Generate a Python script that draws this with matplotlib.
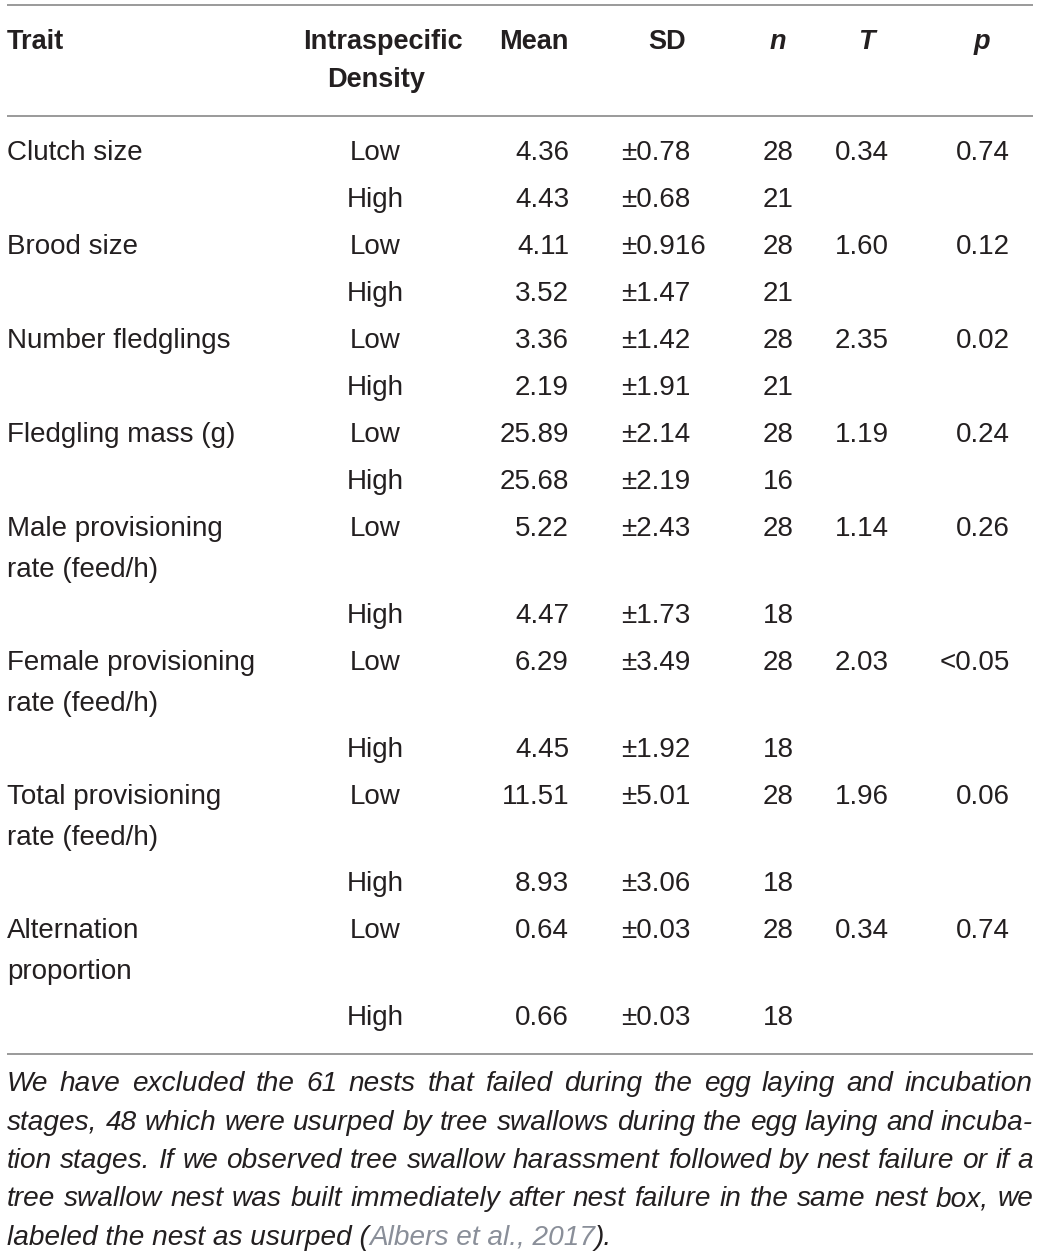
import matplotlib
matplotlib.use("Agg")
import matplotlib.pyplot as plt

# table content
traits = ["Clutch size", "Brood size", "Number fledglings", "Fledgling mass (g)",
          "Male provisioning\nrate (feed/h)", "Female provisioning\nrate (feed/h)",
          "Total provisioning\nrate (feed/h)", "Alternation\nproportion"]
density = ["Low", "High"]
mean_low = ["4.36", "4.11", "3.36", "25.89", "5.22", "6.29", "11.51", "0.64"]
mean_high = ["4.43", "3.52", "2.19", "25.68", "4.47", "4.45", "8.93", "0.66"]
sd_low = ["±0.78", "±0.916", "±1.42", "±2.14", "±2.43", "±3.49", "±5.01", "±0.03"]
sd_high = ["±0.68", "±1.47", "±1.91", "±2.19", "±1.73", "±1.92", "±3.06", "±0.03"]
n_low = ["28", "28", "28", "28", "28", "28", "28", "28"]
n_high = ["21", "21", "21", "16", "18", "18", "18", "18"]
t_vals = ["0.34", "1.60", "2.35", "1.19", "1.14", "2.03", "1.96", "0.34"]
p_vals = ["0.74", "0.12", "0.02", "0.24", "0.26", "<0.05", "0.06", "0.74"]

footnote = ["We have excluded the 61 nests that failed during the egg laying and incubation",
            "stages, 48 which were usurped by tree swallows during the egg laying and incuba-",
            "tion stages. If we observed tree swallow harassment followed by nest failure or if a",
            "tree swallow nest was built immediately after nest failure in the same nest box, we"]
last_line = "labeled the nest as usurped ("
citation = "Albers et al., 2017"
last_end = ")."

W, H = 1040, 1253
fig = plt.figure(figsize=(W / 100, H / 100), dpi=100)
ax = fig.add_axes([0, 0, 1, 1])
ax.set_xlim(0, W)
ax.set_ylim(H, 0)
ax.axis("off")

txt = "#231f20"
fam = ["Liberation Sans", "DejaVu Sans"]
body = dict(fontsize=20, color=txt, family=fam, va="center")
head = dict(fontsize=19.5, color=txt, family=fam, weight="bold", va="center")

# rules
for y in (5, 116, 1054):
    ax.plot([7, 1033], [y, y], color="#9a9a9a", lw=1.4, solid_capstyle="butt")

# header
ax.text(7, 42, "Trait", ha="left", **head)
ax.text(383, 42, "Intraspecific", ha="center", **head)
ax.text(376, 80, "Density", ha="center", **head)
ax.text(534, 42, "Mean", ha="center", **head)
ax.text(667, 42, "SD", ha="center", **head)
ax.text(778, 42, "n", ha="center", style="italic", **head)
ax.text(866, 42, "T", ha="center", style="italic", **head)
ax.text(982, 42, "p", ha="center", style="italic", **head)

# body rows
y = 153
for i, tr in enumerate(traits):
    lines = tr.split("\n")
    for k, ln in enumerate(lines):
        ax.text(7, y + 41 * k, ln, ha="left", **body)
    ax.text(375, y, density[0], ha="center", **body)
    ax.text(569, y, mean_low[i], ha="right", **body)
    ax.text(621, y, sd_low[i], ha="left", **body)
    ax.text(778, y, n_low[i], ha="center", **body)
    ax.text(862, y, t_vals[i], ha="center", **body)
    ax.text(1010, y, p_vals[i], ha="right", **body)
    y += 47 if len(lines) == 1 else 87
    ax.text(375, y, density[1], ha="center", **body)
    ax.text(569, y, mean_high[i], ha="right", **body)
    ax.text(621, y, sd_high[i], ha="left", **body)
    ax.text(778, y, n_high[i], ha="center", **body)
    y += 47

# footnote, justified; size picked so the longest line fits
fig.canvas.draw()
r = fig.canvas.get_renderer()
x0, x1 = 7, 1033


def width(t):
    return t.get_window_extent(renderer=r).width


foot = dict(fontsize=20, color=txt, family=fam, style="italic", va="center")
probe = [ax.text(0, -100, ln, **foot) for ln in footnote]
widest = max(width(p) for p in probe)
for p in probe:
    p.remove()
foot["fontsize"] = 20 * (x1 - x0) / widest * 0.995

fy = 1084
for ln in footnote:
    words = ln.split(" ")
    objs = [ax.text(0, fy, w, ha="left", **foot) for w in words]
    ws = [width(o) for o in objs]
    gap = (x1 - x0 - sum(ws)) / (len(words) - 1)
    xx = x0
    for o, w in zip(objs, ws):
        o.set_x(xx)
        xx += w + gap
    fy += 38.5

a = ax.text(x0, fy, last_line, ha="left", **foot)
wa = width(a)
b = ax.text(x0 + wa, fy, citation, ha="left", **{**foot, "color": "#8a8f99"})
wb = width(b)
ax.text(x0 + wa + wb, fy, last_end, ha="left", **foot)

fig.savefig("out.png", dpi=100, facecolor="white")
